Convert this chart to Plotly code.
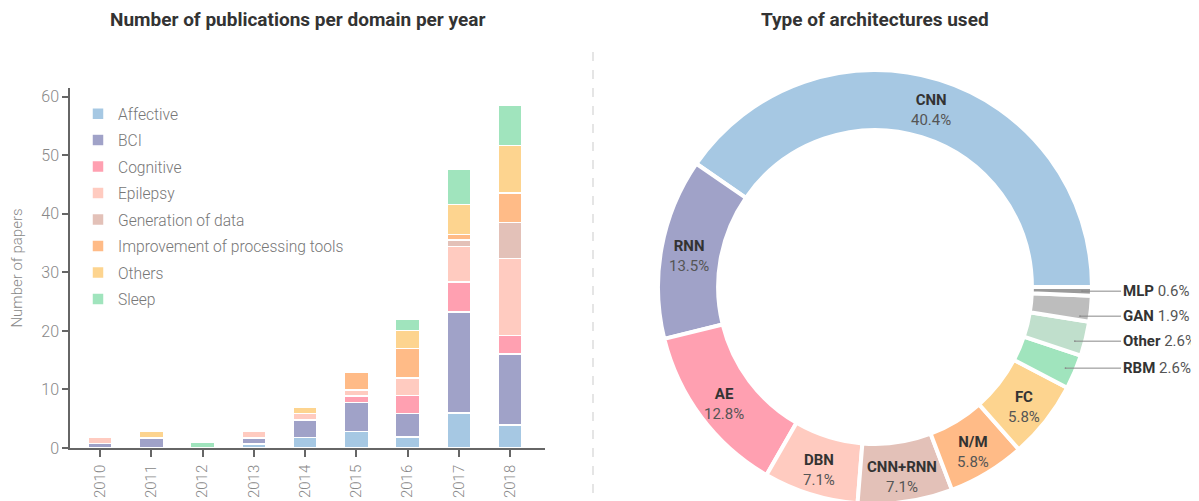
import math
import plotly.graph_objects as go

# ---- data ----
years = [2010, 2011, 2012, 2013, 2014, 2015, 2016, 2017, 2018]

affective = [0, 0, 0, 0.7, 1.8, 2.8, 1.9, 6.0, 3.9]
bci = [0.8, 1.7, 0, 1.0, 3.0, 5.0, 4.0, 17.2, 12.2]
cognitive = [0, 0, 0, 0, 0, 1.1, 3.1, 5.2, 3.1]
epilepsy = [1.0, 0, 0, 1.1, 1.1, 1.0, 3.0, 6.0, 13.2]
generation = [0, 0, 0, 0, 0, 0, 0, 1.1, 6.1]
improvement = [0, 0, 0, 0, 0, 3.1, 5.0, 1.0, 5.1]
others = [0, 1.2, 0, 0, 1.0, 0, 3.1, 5.1, 8.1]
sleep = [0, 0, 1.0, 0, 0, 0, 1.9, 6.0, 6.8]

domain_names = ["Affective", "BCI", "Cognitive", "Epilepsy", "Generation of data",
                "Improvement of processing tools", "Others", "Sleep"]
domain_values = [affective, bci, cognitive, epilepsy, generation, improvement, others, sleep]
domain_colors = ["#a6c8e3", "#a0a2c8", "#ffa0b1", "#ffcbc0", "#e3c1b8",
                 "#ffbb87", "#fdd48f", "#a0e4bd"]

arch_names = ["CNN", "RNN", "AE", "DBN", "CNN+RNN", "N/M", "FC", "RBM", "Other", "GAN", "MLP"]
arch_counts = [63, 21, 20, 11, 11, 9, 9, 4, 4, 3, 1]
arch_colors = ["#a6c8e3", "#a0a2c8", "#ffa0b1", "#ffcbc0", "#e3c1b8", "#ffbb87",
               "#fdd48f", "#a0e4bd", "#c0dfcc", "#bdbdbd", "#9a9a9a"]

W, H = 1199, 501
FONT = "Roboto"
OFF = 8  # page body margin


def px(x):
    return (x - OFF) / W


def py(y):
    return 1 - (y - OFF) / H


fig = go.Figure()

# ---- stacked bars ----
for name, vals, col in zip(domain_names, domain_values, domain_colors):
    fig.add_trace(go.Bar(
        x=years, y=vals, name=name, width=0.47,
        marker=dict(color=col, line=dict(color="white", width=1.5)),
        legendgroup=name,
    ))

fig.update_layout(
    barmode="stack",
    xaxis=dict(
        domain=[px(70), px(545)], range=[2009.415, 2018.68], automargin=False,
        tickvals=years, ticktext=[str(y) for y in years], tickangle=-90,
        showgrid=False, zeroline=False, showline=True, linecolor="#666", linewidth=1.5,
        ticks="outside", ticklen=7, tickcolor="#666", tickwidth=1.5,
        tickfont=dict(family=FONT, size=15, color="#888", weight=300), ticklabelstandoff=2,
    ),
    yaxis=dict(
        domain=[py(448), py(88)], range=[0, 61.5], automargin=False,
        tickvals=[0, 10, 20, 30, 40, 50, 60],
        showgrid=False, zeroline=False, showline=True, linecolor="#666", linewidth=1.5,
        ticks="outside", ticklen=6, tickcolor="#666", tickwidth=1.5,
        tickfont=dict(family=FONT, size=16, color="#888", weight=300),
        title=dict(text="Number of papers", font=dict(family=FONT, size=15, color="#888", weight=300),
                   standoff=20),
    ),
)

# ---- donut ----
total = sum(arch_counts)
cx, cy = 875, 287
r_out = 217
hole = 0.723
r_in = r_out * hole

fig.add_trace(go.Pie(
    labels=arch_names, values=arch_counts, sort=False,
    direction="counterclockwise", rotation=90 - arch_counts[0] / total * 360, hole=hole,
    marker=dict(colors=arch_colors, line=dict(color="white", width=4)),
    textinfo="none", hoverinfo="label+percent", showlegend=False,
    domain=dict(x=[px(cx - r_out), px(cx + r_out)], y=[py(cy + r_out), py(cy - r_out)]),
))

annotations = []
small = []
cum = 0
for name, cnt in zip(arch_names, arch_counts):
    share = cnt / total
    mid = (cum + cnt / 2) / total * 2 * math.pi
    cum += cnt
    pct = f"{share * 100:.1f}%"
    if share > 0.04:
        rm = (r_in + r_out) / 2 + 2
        x = cx + rm * math.cos(mid)
        y = cy - rm * math.sin(mid) + 3
        annotations.append(dict(
            x=px(x), y=py(y), xref="paper", yref="paper", showarrow=False,
            text=f"<b>{name}</b><br><span style='color:#555'>{pct}</span>",
            font=dict(family=FONT, size=15, color="#333"), align="center",
            xanchor="center", yanchor="middle",
        ))
    else:
        small.append((cy - 207 * math.sin(mid), name, pct))

# outside labels for thin slices, spread vertically so they do not collide
small.sort()
prev = None
for y, name, pct in small:
    if prev is not None and y < prev + 25:
        y = prev + 25
    prev = y
    x = cx + math.sqrt(207 ** 2 - (y - cy) ** 2)
    annotations.append(dict(
        x=px(x), y=py(y), xref="paper", yref="paper",
        showarrow=True, ax=1121 - x, ay=0, axref="pixel", ayref="pixel",
        arrowhead=6, arrowsize=0.4, arrowwidth=1, arrowcolor="#888", standoff=0,
        text=f"<b>{name}</b> <span style='color:#555'>{pct}</span>",
        font=dict(family=FONT, size=15, color="#333"),
        xanchor="left", yanchor="middle",
    ))

# ---- titles ----
annotations.append(dict(x=px(297), y=py(20), xref="paper", yref="paper", showarrow=False,
                        xanchor="center", yanchor="middle",
                        text="<b>Number of publications per domain per year</b>",
                        font=dict(family=FONT, size=19, color="#333")))
annotations.append(dict(x=px(875), y=py(20), xref="paper", yref="paper", showarrow=False,
                        xanchor="center", yanchor="middle",
                        text="<b>Type of architectures used</b>",
                        font=dict(family=FONT, size=19, color="#333")))

fig.update_layout(
    width=W, height=H,
    margin=dict(l=0, r=0, t=0, b=0),
    paper_bgcolor="white", plot_bgcolor="white",
    font=dict(family=FONT),
    annotations=annotations,
    shapes=[dict(type="line", xref="paper", yref="paper",
                 x0=px(593), x1=px(593), y0=py(52), y1=py(496),
                 line=dict(color="#ddd", width=1.5, dash="dash"))],
    legend=dict(x=px(78), y=py(97), xanchor="left", yanchor="top",
                traceorder="grouped", tracegroupgap=3.2, bgcolor="rgba(0,0,0,0)",
                font=dict(family=FONT, size=15.6, color="#777", weight=300)),
    showlegend=True,
)

fig.write_html("out.html")
